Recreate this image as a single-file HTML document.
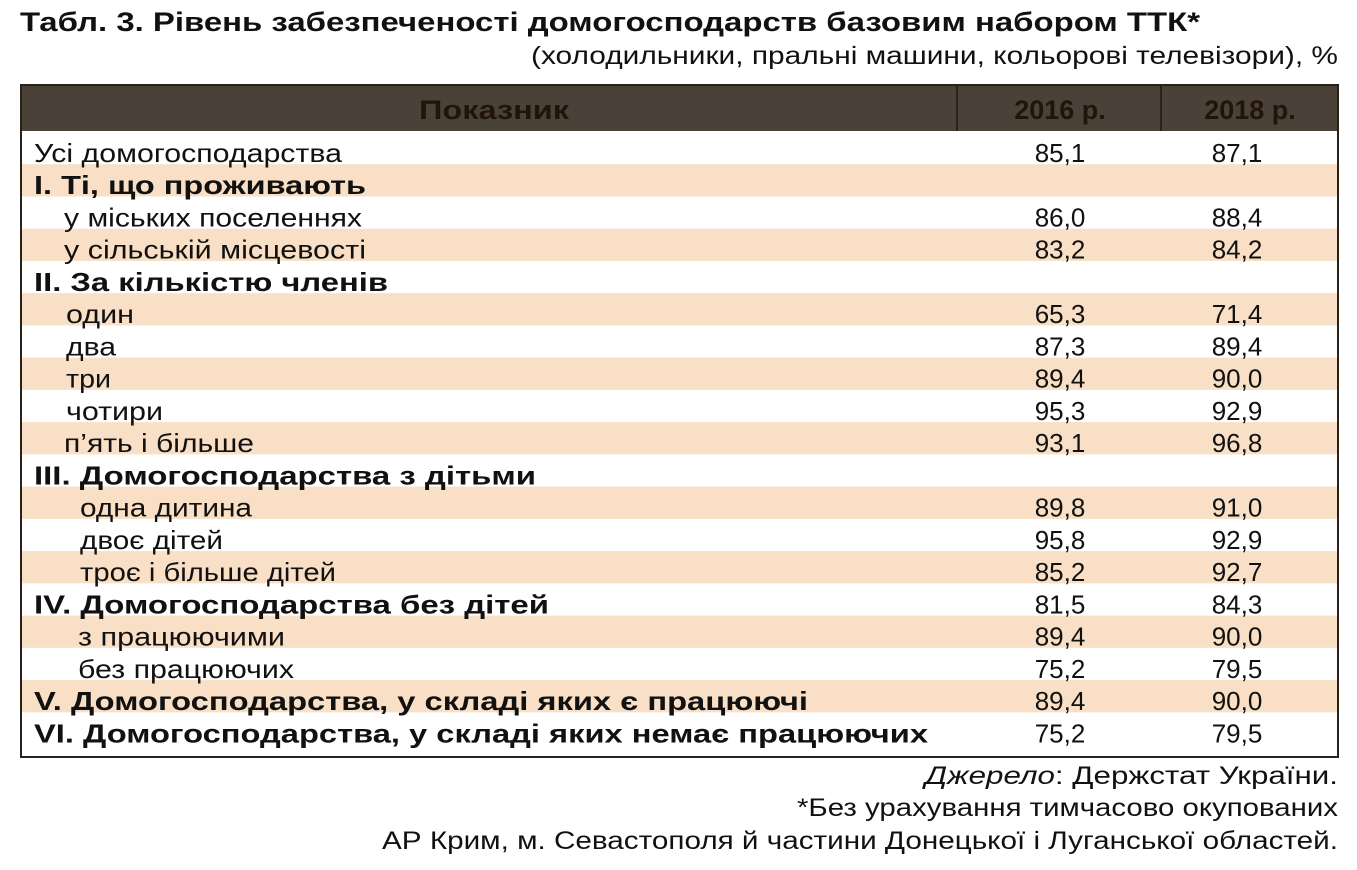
<!DOCTYPE html>
<html><head><meta charset="utf-8">
<style>
html,body{margin:0;padding:0;background:#fff;}
svg{display:block;font-family:"Liberation Sans",sans-serif;}
</style></head>
<body>
<svg id="t" width="1357" height="870" viewBox="0 0 1357 870" xmlns="http://www.w3.org/2000/svg">
<text x="20" y="31" font-size="27" font-weight="bold" fill="#111" textLength="1180" lengthAdjust="spacingAndGlyphs">Табл. 3. Рівень забезпеченості домогосподарств базовим набором ТТК*</text>
<text x="1338" y="64" font-size="25" fill="#111" text-anchor="end" textLength="807" lengthAdjust="spacingAndGlyphs">(холодильники, пральні машини, кольорові телевізори), %</text>
<g id="bands"></g>
<g id="rows"></g>
<rect x="21" y="85" width="1317" height="46" fill="#4a4139"/>
<line x1="957" y1="85" x2="957" y2="131" stroke="#2a2219" stroke-width="2"/>
<line x1="1161" y1="85" x2="1161" y2="131" stroke="#2a2219" stroke-width="2"/>
<text x="494" y="119" font-size="27" font-weight="bold" fill="#22140a" text-anchor="middle" textLength="150" lengthAdjust="spacingAndGlyphs">Показник</text>
<text x="1060" y="119" font-size="27" font-weight="bold" fill="#22140a" text-anchor="middle">2016 р.</text>
<text x="1250" y="119" font-size="27" font-weight="bold" fill="#22140a" text-anchor="middle">2018 р.</text>
<rect x="21" y="85" width="1317" height="672" fill="none" stroke="#2a2219" stroke-width="2"/>
<text x="1338" y="784" font-size="25" fill="#111" text-anchor="end" textLength="413" lengthAdjust="spacingAndGlyphs"><tspan font-style="italic">Джерело</tspan>: Держстат України.</text>
<text x="1338" y="816" font-size="25" fill="#111" text-anchor="end" textLength="541" lengthAdjust="spacingAndGlyphs">*Без урахування тимчасово окупованих</text>
<text x="1338" y="849" font-size="25" fill="#111" text-anchor="end" textLength="956" lengthAdjust="spacingAndGlyphs">АР Крим, м. Севастополя й частини Донецької і Луганської областей.</text>
</svg>
<script>
const labels = ["Усі домогосподарства","I. Ті, що проживають","у міських поселеннях","у сільській місцевості","II. За кількістю членів","один","два","три","чотири","п’ять і більше","III. Домогосподарства з дітьми","одна дитина","двоє дітей","троє і більше дітей","IV. Домогосподарства без дітей","з працюючими","без працюючих","V. Домогосподарства, у складі яких є працюючі","VI. Домогосподарства, у складі яких немає працюючих"];
const values2016 = ["85,1","","86,0","83,2","","65,3","87,3","89,4","95,3","93,1","","89,8","95,8","85,2","81,5","89,4","75,2","89,4","75,2"];
const values2018 = ["87,1","","88,4","84,2","","71,4","89,4","90,0","92,9","96,8","","91,0","92,9","92,7","84,3","90,0","79,5","90,0","79,5"];
const bold = [0,1,0,0,1,0,0,0,0,0,1,0,0,0,1,0,0,1,1];
const xs = [34,34,64,64,34,66,66,66,66,64,34,80,80,80,34,78,78,34,34];
const ws = [308,332,298,302,354,68,50,45,97,190,502,172,143,256,515,207,216,774,894];
const NS="http://www.w3.org/2000/svg";
const g=document.getElementById('rows');
const gb=document.getElementById('bands');
const top0=132, rh=32.24;
labels.forEach((lab,i)=>{
  const y=top0+i*rh;
  if(i%2===1){
    const r=document.createElementNS(NS,'rect');
    
    
    r.setAttribute('x',21);r.setAttribute('y',y);r.setAttribute('width',1317);r.setAttribute('height',rh);
    r.setAttribute('fill','#f8dfc5');gb.appendChild(r);
  }
  const t=document.createElementNS(NS,'text');
  
  
  t.setAttribute('x',xs[i]);t.setAttribute('y',y+30);t.setAttribute('font-size',26);
  t.setAttribute('fill','#111');
  if(bold[i])t.setAttribute('font-weight','bold');
  t.setAttribute('textLength',ws[i]);t.setAttribute('lengthAdjust','spacingAndGlyphs');
  t.textContent=lab;g.appendChild(t);
  [[values2016,1060],[values2018,1237]].forEach(([arr,cx])=>{
    if(!arr[i])return;
    const v=document.createElementNS(NS,'text');
    
    
    v.setAttribute('x',cx);v.setAttribute('y',y+30);v.setAttribute('font-size',26);
    v.setAttribute('fill','#111');v.setAttribute('text-anchor','middle');
    v.textContent=arr[i];g.appendChild(v);
  });
});
</script>
</body></html>
